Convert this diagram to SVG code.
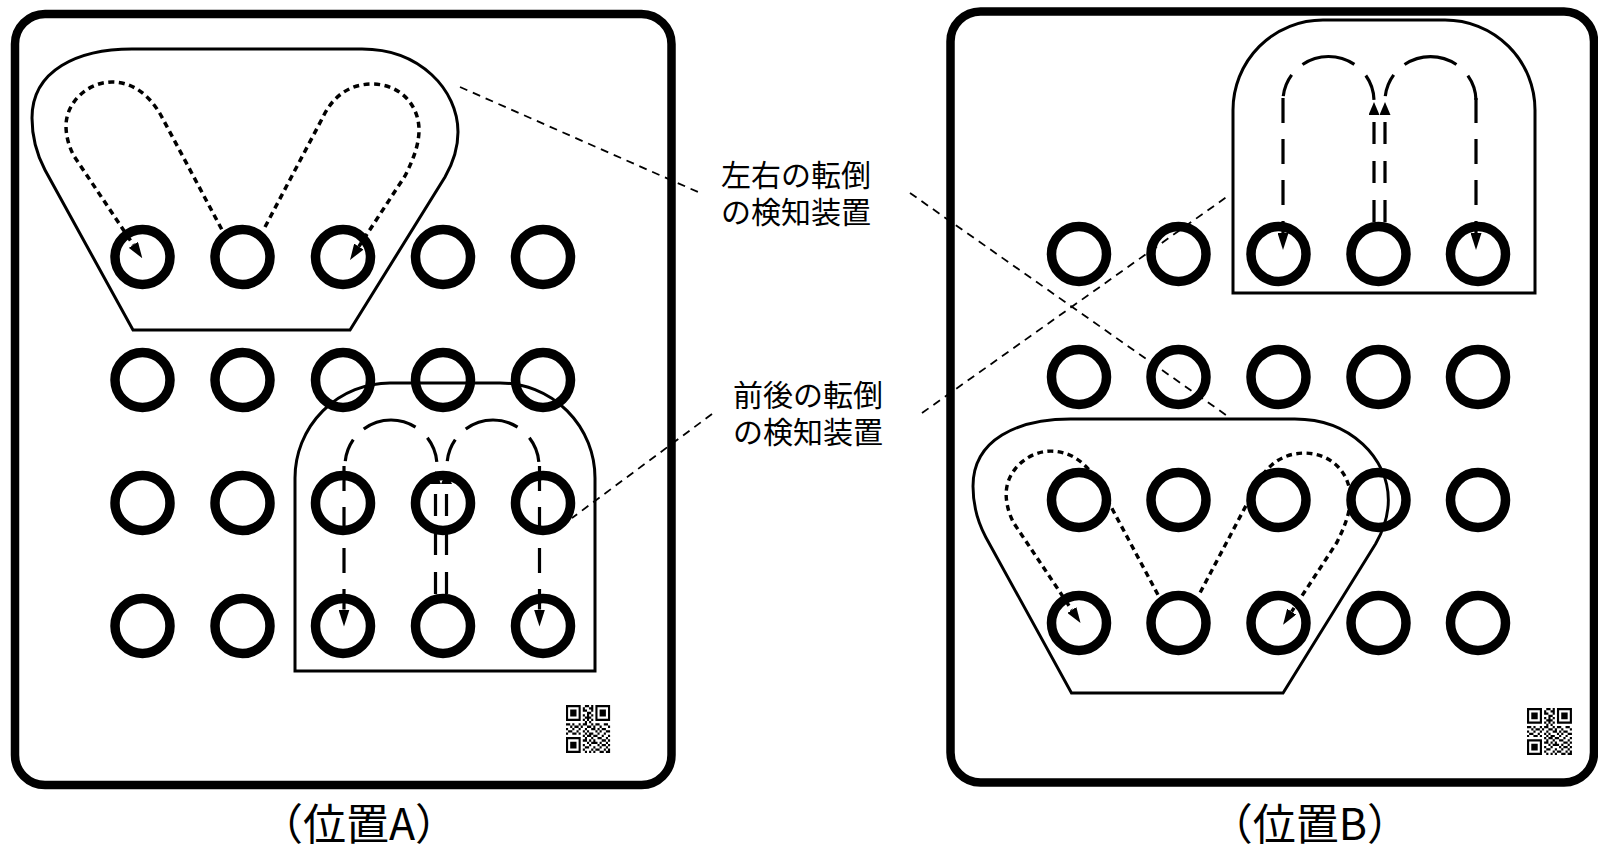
<svg xmlns="http://www.w3.org/2000/svg" xmlns:xlink="http://www.w3.org/1999/xlink" width="1598" height="846" viewBox="0 0 1598 846">
<style>
.panel{fill:none;stroke:#000;stroke-width:8.5}
.hole{fill:none;stroke:#000;stroke-width:9.5}
.outline{fill:none;stroke:#000;stroke-width:3}
.dot{fill:none;stroke:#000;stroke-width:3.5;stroke-dasharray:6 4.5}
.dash{fill:none;stroke:#000;stroke-width:3.2;stroke-dasharray:25 16}
.mid{fill:none;stroke:#000;stroke-width:3.2;stroke-dasharray:22 17}
.arch{fill:none;stroke:#000;stroke-width:3.2;stroke-dasharray:0 5 23 15 55 16 26 60}
.leader{fill:none;stroke:#000;stroke-width:1.8;stroke-dasharray:8 6}
.label{font-family:"Noto Sans CJK JP","Noto Sans",sans-serif;font-size:30px;fill:#000}
.caption{font-family:"Noto Sans CJK JP","Noto Sans",sans-serif;font-size:43px;fill:#000}
</style>
<defs>
<marker id="ah" viewBox="0 0 17 11" markerWidth="17" markerHeight="11" refX="0" refY="5.5" orient="auto" markerUnits="userSpaceOnUse"><path d="M0,0 L17,5.5 L0,11 Z" fill="#000"/></marker>
<marker id="ahs" viewBox="0 0 16 11" markerWidth="16" markerHeight="11" refX="0" refY="5.5" orient="auto" markerUnits="userSpaceOnUse"><path d="M0,0 L16,5.5 L0,11 Z" fill="#000"/></marker>
<marker id="ahu" viewBox="0 0 13 11" markerWidth="13" markerHeight="11" refX="0" refY="5.5" orient="auto" markerUnits="userSpaceOnUse"><path d="M0,0 L13,5.5 L0,11 Z" fill="#000"/></marker>
<g id="lr-shape">
<path class="outline" d="M132,49 L362,49 C420,49 458,90 458,132 C458,150 453,163 445,177 L350,330 L133,330 L45,170 C36,153 32,138 32,118 C32,70 78,49 132,49 Z"/>
<path class="dot" marker-end="url(#ahs)" d="M221.7,229.3 L161.7,116.7 C152,99 136,82 112,82 C88,82 66,102 66,126 C66,136 69,147 74,156 L133.4,244.9"/>
<path class="dot" marker-end="url(#ahs)" d="M265,227 L323,117 C332,98 348,84 372,84 C400,84 419,105 419,130 C419,145 413,160 405,176 L358.8,246.6"/>
</g>
<g id="qrcode">
<path fill="#000" fill-rule="evenodd" d="M0 0h7v7h-7z M1 1v5h5v-5z M2 2h3v3h-3z M14 0h7v7h-7z M15 1v5h5v-5z M16 2h3v3h-3z M0 14h7v7h-7z M1 15v5h5v-5z M2 16h3v3h-3z"/>
<path fill="#000" d="M9 0h2v1h-2z M12 0h1v1h-1z M8 1h1v1h-1z M11 1h2v1h-2z M8 2h2v1h-2z M12 2h1v1h-1z M10 3h2v1h-2z M8 4h1v1h-1z M10 4h1v1h-1z M12 4h1v1h-1z M9 5h3v1h-3z M8 6h1v1h-1z M10 6h1v1h-1z M12 6h1v1h-1z M9 7h1v1h-1z M11 7h1v1h-1z M0 8h2v1h-2z M3 8h1v1h-1z M6 8h1v1h-1z M8 8h2v1h-2z M12 8h1v1h-1z M14 8h2v1h-2z M18 8h2v1h-2z M2 9h1v1h-1z M4 9h2v1h-2z M7 9h1v1h-1z M10 9h2v1h-2z M13 9h1v1h-1z M16 9h1v1h-1z M20 9h1v1h-1z M0 10h1v1h-1z M3 10h1v1h-1z M6 10h1v1h-1z M9 10h1v1h-1z M12 10h2v1h-2z M15 10h1v1h-1z M17 10h2v1h-2z M1 11h2v1h-2z M5 11h1v1h-1z M8 11h1v1h-1z M10 11h1v1h-1z M14 11h1v1h-1z M16 11h1v1h-1z M19 11h2v1h-2z M0 12h1v1h-1z M3 12h2v1h-2z M6 12h1v1h-1z M9 12h1v1h-1z M11 12h2v1h-2z M15 12h1v1h-1z M18 12h1v1h-1z M8 13h1v1h-1z M10 13h2v1h-2z M13 13h2v1h-2z M17 13h1v1h-1z M20 13h1v1h-1z M9 14h1v1h-1z M12 14h1v1h-1z M15 14h2v1h-2z M19 14h1v1h-1z M8 15h2v1h-2z M11 15h1v1h-1z M13 15h1v1h-1z M17 15h2v1h-2z M20 15h1v1h-1z M10 16h1v1h-1z M12 16h3v1h-3z M16 16h1v1h-1z M19 16h1v1h-1z M8 17h1v1h-1z M11 17h1v1h-1z M15 17h1v1h-1z M17 17h2v1h-2z M20 17h1v1h-1z M9 18h2v1h-2z M13 18h1v1h-1z M16 18h1v1h-1z M19 18h1v1h-1z M8 19h1v1h-1z M12 19h1v1h-1z M14 19h2v1h-2z M18 19h1v1h-1z M20 19h1v1h-1z M9 20h1v1h-1z M11 20h1v1h-1z M13 20h1v1h-1z M16 20h2v1h-2z M19 20h2v1h-2z"/>
</g>
</defs>

<g id="panel-A"><rect class="panel" x="15" y="14" width="656.5" height="771" rx="30"/></g>
<g id="panel-B"><rect class="panel" x="950.5" y="11.5" width="643.5" height="771" rx="30"/></g>

<g id="lr-device-A"><use href="#lr-shape" xlink:href="#lr-shape"/></g>
<g id="lr-device-B"><use href="#lr-shape" xlink:href="#lr-shape" transform="translate(941.8,371.2) scale(0.975)"/></g>

<g id="fb-device-A">
<path class="outline" d="M295,671 V478 A95 95 0 0 1 390,383 H500 A95 95 0 0 1 595,478 V671 Z"/>
<path class="arch" d="M345,466 A46 46 0 0 1 437,466"/>
<path class="arch" d="M447,466 A46 46 0 0 1 539,466"/>
<path class="dash" marker-end="url(#ah)" d="M344,466 V609.5"/>
<path class="dash" marker-end="url(#ah)" d="M539.5,466 V609.5"/>
<path class="mid" marker-end="url(#ahu)" d="M435.5,594 V484"/>
<path class="mid" marker-end="url(#ahu)" d="M446.5,594 V484"/>
</g>

<g id="fb-device-B">
<path class="outline" d="M1233,293 V110 A90 90 0 0 1 1323,20 H1445 A90 90 0 0 1 1535,110 V293 Z"/>
<path class="arch" d="M1283,101 A45.5 44.5 0 0 1 1374,101"/>
<path class="arch" d="M1385,101 A45.5 44.5 0 0 1 1476,101"/>
<path class="dash" marker-end="url(#ah)" d="M1283,98 V233"/>
<path class="dash" marker-end="url(#ah)" d="M1476,98 V233"/>
<path class="mid" marker-end="url(#ahu)" d="M1374,222 V115"/>
<path class="mid" marker-end="url(#ahu)" d="M1385,222 V115"/>
</g>

<g id="holes-A">
<circle class="hole" cx="142.5" cy="257" r="27.5"/><circle class="hole" cx="242.5" cy="257" r="27.5"/><circle class="hole" cx="343" cy="257" r="27.5"/><circle class="hole" cx="443" cy="257" r="27.5"/><circle class="hole" cx="543" cy="257" r="27.5"/>
<circle class="hole" cx="142.5" cy="380" r="27.5"/><circle class="hole" cx="242.5" cy="380" r="27.5"/><circle class="hole" cx="343" cy="380" r="27.5"/><circle class="hole" cx="443" cy="380" r="27.5"/><circle class="hole" cx="543" cy="380" r="27.5"/>
<circle class="hole" cx="142.5" cy="503" r="27.5"/><circle class="hole" cx="242.5" cy="503" r="27.5"/><circle class="hole" cx="343" cy="503" r="27.5"/><circle class="hole" cx="443" cy="503" r="27.5"/><circle class="hole" cx="543" cy="503" r="27.5"/>
<circle class="hole" cx="142.5" cy="626" r="27.5"/><circle class="hole" cx="242.5" cy="626" r="27.5"/><circle class="hole" cx="343" cy="626" r="27.5"/><circle class="hole" cx="443" cy="626" r="27.5"/><circle class="hole" cx="543" cy="626" r="27.5"/>
</g>

<g id="holes-B">
<circle class="hole" cx="1079" cy="254" r="27.5"/><circle class="hole" cx="1178.5" cy="254" r="27.5"/><circle class="hole" cx="1278.5" cy="254" r="27.5"/><circle class="hole" cx="1378.5" cy="254" r="27.5"/><circle class="hole" cx="1478" cy="254" r="27.5"/>
<circle class="hole" cx="1079" cy="377" r="27.5"/><circle class="hole" cx="1178.5" cy="377" r="27.5"/><circle class="hole" cx="1278.5" cy="377" r="27.5"/><circle class="hole" cx="1378.5" cy="377" r="27.5"/><circle class="hole" cx="1478" cy="377" r="27.5"/>
<circle class="hole" cx="1079" cy="500" r="27.5"/><circle class="hole" cx="1178.5" cy="500" r="27.5"/><circle class="hole" cx="1278.5" cy="500" r="27.5"/><circle class="hole" cx="1378.5" cy="500" r="27.5"/><circle class="hole" cx="1478" cy="500" r="27.5"/>
<circle class="hole" cx="1079" cy="623" r="27.5"/><circle class="hole" cx="1178.5" cy="623" r="27.5"/><circle class="hole" cx="1278.5" cy="623" r="27.5"/><circle class="hole" cx="1378.5" cy="623" r="27.5"/><circle class="hole" cx="1478" cy="623" r="27.5"/>
</g>

<g id="qr-A"><use href="#qrcode" xlink:href="#qrcode" transform="translate(566,705) scale(2.1,2.29)"/></g>
<g id="qr-B"><use href="#qrcode" xlink:href="#qrcode" transform="translate(1527,708) scale(2.14,2.24)"/></g>

<g id="connectors">
<path class="leader" d="M460,87 L698,192"/>
<path class="leader" d="M910,193 L1226,415"/>
<path class="leader" d="M712,414 L572,518"/>
<path class="leader" d="M922,413 L1228,196"/>
</g>

<g id="label-lr">
<text class="label" x="721" y="186">左右の転倒</text>
<text class="label" x="721" y="223">の検知装置</text>
</g>
<g id="label-fb">
<text class="label" x="733" y="406">前後の転倒</text>
<text class="label" x="733" y="443">の検知装置</text>
</g>

<g id="caption-A"><text class="caption" x="359" y="840" text-anchor="middle">（位置A）</text></g>
<g id="caption-B"><text class="caption" x="1310" y="840" text-anchor="middle">（位置B）</text></g>
</svg>
